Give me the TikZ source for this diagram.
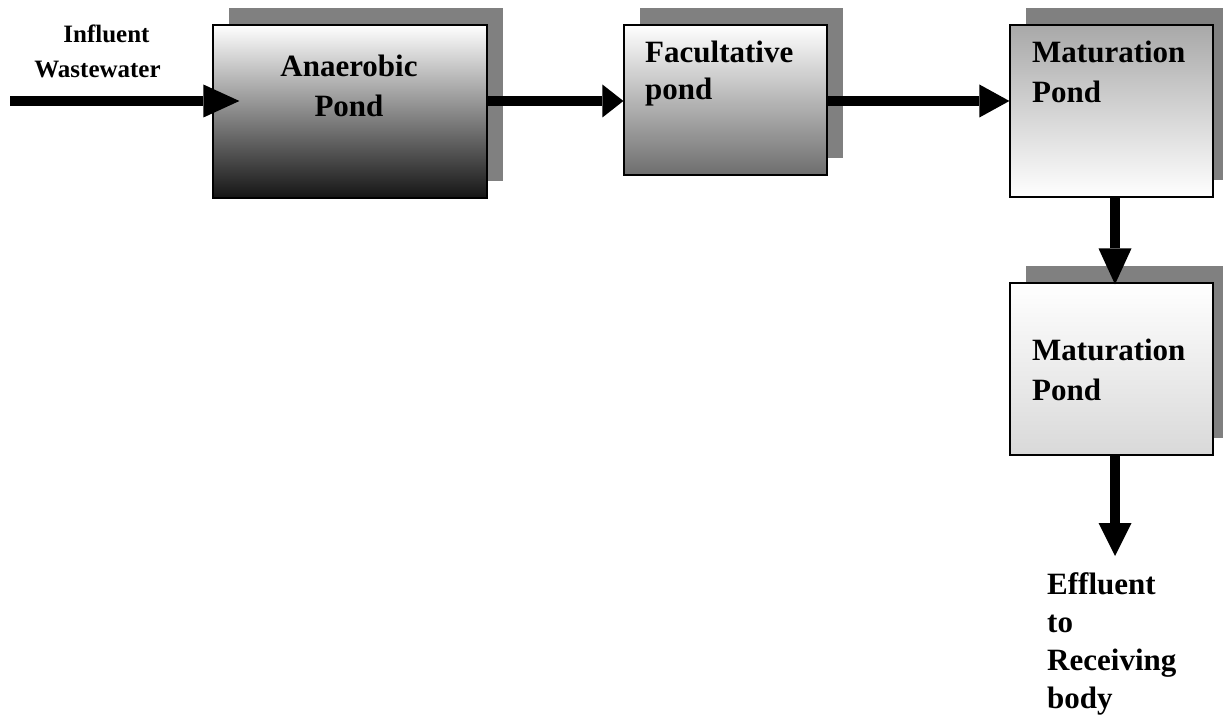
\documentclass[tikz,border=0pt]{standalone}
\usepackage{fontspec}
\setmainfont{Liberation Serif}
\usetikzlibrary{arrows.meta,shadows,calc}
\definecolor{shadowgray}{RGB}{128,128,128}
\tikzset{
  pond/.style={draw=black, line width=1.2pt, inner sep=0pt,
    drop shadow={shadow xshift=15.5pt, shadow yshift=17pt, opacity=1, fill=shadowgray}},
  bigtxt/.style={inner sep=0pt, font=\fontsize{31}{40}\selectfont\bfseries},
  smalltxt/.style={inner sep=0pt, font=\fontsize{25}{30}\selectfont\bfseries},
  flow/.style={line width=9.5pt, draw=black},
}
\newcommand{\tipL}[1]{-{Triangle[width=33pt,length=#1pt,line width=0pt]}}
\begin{document}
\begin{tikzpicture}[x=1pt,y=-1pt]
\useasboundingbox (0,0) rectangle (1223,719);
% boxes
\node[pond, minimum width=274pt, minimum height=173pt, top color=white, bottom color=black!92] (an) at (350,111.5) {};
\node[pond, minimum width=203pt, minimum height=150pt, top color=white, bottom color=black!57] (fac) at (725.5,100) {};
\node[pond, minimum width=203pt, minimum height=172pt, top color=black!34, bottom color=white] (mat1) at (1111.5,111) {};
\node[pond, minimum width=203pt, minimum height=172pt, top color=white, bottom color=black!15] (mat2) at (1111.5,369) {};
% texts
\node[smalltxt, anchor=base] (in1) at (106.5,43) {Influent};
\node[smalltxt, anchor=base] (in2) at (97.5,78) {Wastewater};
\node[bigtxt, anchor=base] (an1) at (349,77) {Anaerobic};
\node[bigtxt, anchor=base] (an2) at (349,117) {Pond};
\node[bigtxt, anchor=base west] (fa1) at (645,63) {Facultative};
\node[bigtxt, anchor=base west] (fa2) at (645,100) {pond};
\node[bigtxt, anchor=base west] (m11) at (1032,63) {Maturation};
\node[bigtxt, anchor=base west] (m12) at (1032,103) {Pond};
\node[bigtxt, anchor=base west] (m21) at (1032,360) {Maturation};
\node[bigtxt, anchor=base west] (m22) at (1032,400) {Pond};
\node[bigtxt, anchor=base west] (ef1) at (1047,594) {Effluent};
\node[bigtxt, anchor=base west] (ef2) at (1047,632) {to};
\node[bigtxt, anchor=base west] (ef3) at (1047,670) {Receiving};
\node[bigtxt, anchor=base west] (ef4) at (1047,708) {body};
% connectors
\coordinate (src) at (10,101);
\coordinate (sink) at (1115,556);
\draw[flow, \tipL{36}, shorten >=-27pt] (src) -- (src -| an.west);
\draw[flow, \tipL{21}] (an.east |- 0,101) -- (fac.west |- 0,101);
\draw[flow, \tipL{30}] (fac.east |- 0,101) -- (mat1.west |- 0,101);
\draw[flow, \tipL{36}] ([xshift=3.5pt]mat1.south) -- ([xshift=3.5pt,yshift=-2pt]mat2.north);
\draw[flow, \tipL{33}] ([xshift=3.5pt]mat2.south) -- (sink);
\end{tikzpicture}
\end{document}
